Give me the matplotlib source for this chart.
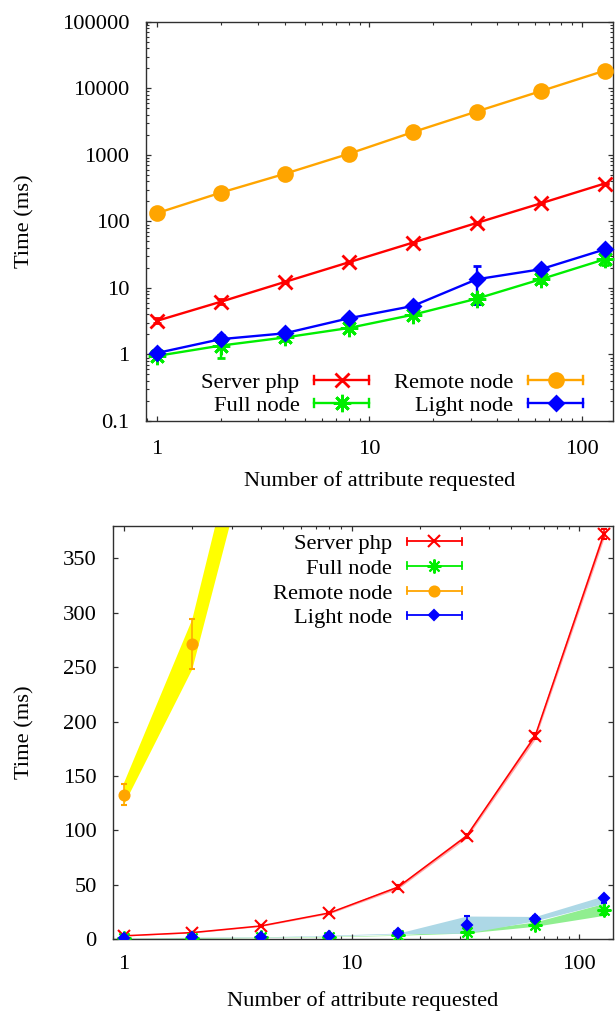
import matplotlib
matplotlib.use('Agg')
import matplotlib.pyplot as plt
from matplotlib.lines import Line2D
from matplotlib.legend_handler import HandlerBase
from matplotlib.ticker import FuncFormatter, LogLocator, NullFormatter, FixedLocator
import numpy as np

plt.rcParams['font.family'] = ['Liberation Serif', 'DejaVu Serif']

# ---------------- data ----------------
attributes = [1, 2, 4, 8, 16, 32, 64, 128]

server_ms = [3.2, 6.2, 12.3, 24.3, 48, 95, 187, 372]
server_lo = [3.0, 5.8, 11.8, 23.5, 46.5, 93, 184, 368]
server_hi = [3.5, 6.9, 12.9, 25.0, 49.5, 97, 190, 377]

full_ms = [0.95, 1.36, 1.8, 2.5, 3.95, 6.9, 13.5, 27]
full_lo = [0.85, 0.9, 1.6, 2.3, 3.7, 5.8, 12, 22]
full_hi = [1.05, 1.75, 2.0, 2.7, 4.2, 7.8, 16, 33]

remote_ms = [133, 271, 520, 1040, 2200, 4500, 9100, 18500]
remote_lo = [123, 248, 490, 1000, 2100, 4350, 8900, 18100]
remote_hi = [143, 294, 550, 1080, 2300, 4650, 9300, 18900]

light_ms = [1.05, 1.7, 2.08, 3.5, 5.35, 13.5, 19.1, 38]
light_lo = [0.95, 1.45, 1.95, 3.2, 5.0, 5.7, 17, 33]
light_hi = [1.15, 1.95, 2.2, 3.8, 5.7, 21.4, 21, 40]

series_names = ['Server php', 'Full node', 'Remote node', 'Light node']
series_vals = [server_ms, full_ms, remote_ms, light_ms]
series_lo = [server_lo, full_lo, remote_lo, light_lo]
series_hi = [server_hi, full_hi, remote_hi, light_hi]

line_colors = ['#ff0000', '#00ee00', '#ffa500', '#0000ff']
band_colors = ['#ffa8a8', '#90ee90', '#ffff00', '#add8e6']
marker_styles = ['x', (8, 2, 0), 'o', 'D']

x_ticks = [1, 10, 100]
top_y_ticks = [0.1, 1, 10, 100, 1000, 10000, 100000]
bottom_y_ticks = [0, 50, 100, 150, 200, 250, 300, 350]

FS = 16.2
PX = 72.0 / 100.0  # points per pixel


class GnuplotKeyHandler(HandlerBase):
    """Key sample like gnuplot yerrorlines: line, end caps, marker in middle."""
    def __init__(self, cap_half):
        super().__init__()
        self.cap_half = cap_half

    def create_artists(self, legend, orig_handle, xdescent, ydescent,
                       width, height, fontsize, trans):
        c = orig_handle.get_color()
        lw = orig_handle.get_linewidth()
        y = height / 2.0 - ydescent
        x0 = -xdescent
        x1 = width - xdescent
        xm = (x0 + x1) / 2.0
        arts = [Line2D([x0, x1], [y, y], color=c, lw=lw),
                Line2D([x0, x0], [y - self.cap_half, y + self.cap_half], color=c, lw=lw),
                Line2D([x1, x1], [y - self.cap_half, y + self.cap_half], color=c, lw=lw),
                Line2D([xm], [y], linestyle='none', marker=orig_handle.get_marker(),
                       ms=orig_handle.get_markersize(), color=c, mec=c, mfc=c,
                       mew=orig_handle.get_markeredgewidth())]
        for a in arts:
            a.set_transform(trans)
        return arts


def style_axes(ax, xpad):
    for s in ax.spines.values():
        s.set_color('#303030')
        s.set_linewidth(1.0)
    ax.tick_params(which='both', direction='in', top=True, right=True,
                   colors='#303030', labelcolor='black', labelsize=FS)
    ax.tick_params(which='major', length=5 * PX, width=0.9)
    ax.tick_params(which='minor', length=2.8 * PX, width=0.8)
    ax.tick_params(axis='x', which='major', pad=xpad)
    ax.tick_params(axis='y', which='major', pad=12)


fig = plt.figure(figsize=(6.15, 10.11), dpi=100)

# ---------------- top plot (log-log) ----------------
ax1 = fig.add_axes([0.2374, 0.5836, 0.7593, 0.3947])
ax1.set_xscale('log')
ax1.set_yscale('log')
top_ms = [9.5, 12.5, 10.0, 7.6]
proxies1 = []
for name, y, lo, hi, c, m, ms in zip(series_names, series_vals, series_lo, series_hi,
                                     line_colors, marker_styles, top_ms):
    y = np.array(y); lo = np.array(lo); hi = np.array(hi)
    ax1.errorbar(attributes, y, yerr=[y - lo, hi - y], color=c, marker=m, ms=ms,
                 mew=2.0, mec=c, mfc=c, lw=1.7, elinewidth=1.7, capsize=4 * PX,
                 capthick=1.7, zorder=3, clip_on=False)
    proxies1.append(Line2D([], [], color=c, marker=m, ms=ms, mew=2.0, lw=1.7))

ax1.set_xlim(0.89, 140)
ax1.set_ylim(0.1, 100000)
ax1.xaxis.set_major_locator(FixedLocator(x_ticks))
ax1.yaxis.set_major_locator(FixedLocator(top_y_ticks))
ax1.xaxis.set_minor_locator(LogLocator(base=10, subs=np.arange(2, 10)))
ax1.yaxis.set_minor_locator(LogLocator(base=10, subs=np.arange(2, 10)))
ax1.xaxis.set_minor_formatter(NullFormatter())
ax1.yaxis.set_minor_formatter(NullFormatter())
ax1.xaxis.set_major_formatter(FuncFormatter(lambda v, p: '%g' % v))
ax1.yaxis.set_major_formatter(FuncFormatter(lambda v, p: '%g' % v))
style_axes(ax1, 13.5)
ax1.set_xlabel('Number of attribute requested', fontsize=FS)
ax1.set_ylabel('Time (ms)', fontsize=FS)
ax1.xaxis.set_label_coords(0.5, -0.125)
ax1.yaxis.set_label_coords(-0.238, 0.5)

leg1 = ax1.legend(proxies1, series_names,
                  handler_map={Line2D: GnuplotKeyHandler(4 * PX)},
                  ncol=2, markerfirst=False, frameon=False, fontsize=FS,
                  loc='lower right', bbox_to_anchor=(0.936, 0.013),
                  borderpad=0, borderaxespad=0, handlelength=2.45,
                  handletextpad=0.65, columnspacing=1.1, labelspacing=0.1)

# ---------------- bottom plot (log-lin) ----------------
ax2 = fig.add_axes([0.1842, 0.0709, 0.8120, 0.4091])
ax2.set_xscale('log')
bot_ms = [8, 10, 7.2, 5.2]
proxies2 = []
for i, (name, y, lo, hi, c, bc, m, ms) in enumerate(zip(series_names, series_vals, series_lo,
                                                        series_hi, line_colors, band_colors,
                                                        marker_styles, bot_ms)):
    y = np.array(y); lo = np.array(lo); hi = np.array(hi)
    ax2.fill_between(attributes, lo, hi, color=bc, lw=0, zorder=1)
    ls = '-' if i == 0 else 'none'
    ax2.errorbar(attributes, y, yerr=[y - lo, hi - y], color=c, marker=m, ms=ms,
                 mew=1.5, mec=c, mfc=c, lw=1.1, linestyle=ls, elinewidth=1.1,
                 capsize=3 * PX, capthick=1.1, zorder=3, clip_on=True)
    proxies2.append(Line2D([], [], color=c, marker=m, ms=ms, mew=1.5, lw=1.3))

ax2.set_xlim(0.9, 140)
ax2.set_ylim(0, 380)
ax2.xaxis.set_major_locator(FixedLocator(x_ticks))
ax2.xaxis.set_minor_locator(LogLocator(base=10, subs=np.arange(2, 10)))
ax2.xaxis.set_minor_formatter(NullFormatter())
ax2.xaxis.set_major_formatter(FuncFormatter(lambda v, p: '%g' % v))
ax2.yaxis.set_major_locator(FixedLocator(bottom_y_ticks))
ax2.yaxis.set_major_formatter(FuncFormatter(lambda v, p: '%g' % v))
style_axes(ax2, 11)
ax2.set_xlabel('Number of attribute requested', fontsize=FS)
ax2.set_ylabel('Time (ms)', fontsize=FS)
ax2.xaxis.set_label_coords(0.5, -0.125)
ax2.yaxis.set_label_coords(-0.158, 0.5)

leg2 = ax2.legend(proxies2, series_names,
                  handler_map={Line2D: GnuplotKeyHandler(3.5 * PX)},
                  ncol=1, markerfirst=False, frameon=False, fontsize=FS,
                  loc='upper right', bbox_to_anchor=(0.698, 0.982),
                  borderpad=0, borderaxespad=0, handlelength=2.45,
                  handletextpad=0.65, labelspacing=0.18)

fig.savefig('out.png', dpi=100)
